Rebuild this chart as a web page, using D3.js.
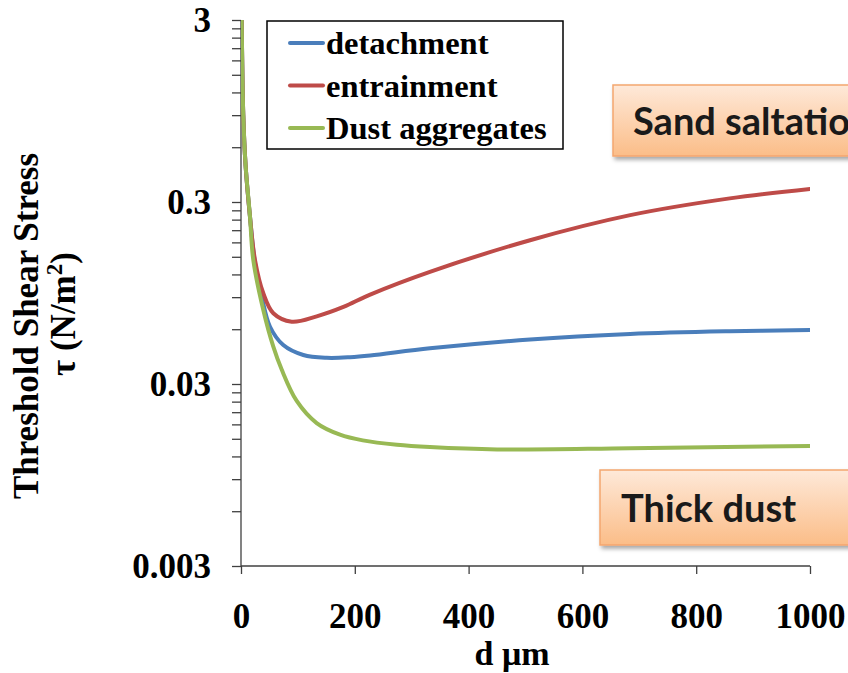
<!DOCTYPE html>
<html>
<head>
	<meta charset="utf-8">
	<title>Threshold shear stress</title>
	<script src="https://cdn.jsdelivr.net/npm/d3@7"></script>
	<style>
	body { margin: 0; background: #fff; }
	svg { display: block; }
	.serif { font-family: "Liberation Serif", "Times New Roman", serif; font-weight: bold; }
	.axis path, .axis line { stroke: #404040; stroke-width: 1.3px; }
	.axis text { font-family: "Liberation Serif", "Times New Roman", serif; font-weight: bold; font-size: 35px; fill: #000; }
	.note { font-family: Lato, "Open Sans", sans-serif; font-weight: bold; font-size: 38px; fill: #1a1a1a; }
	</style>
</head>
<body>
	<svg id="chart"></svg>
	<script>

	// data: d (µm) and tau (N/m2)
	var detachD   = [1.2, 4, 8, 15.8, 24.6, 36.4, 51, 74.3, 109.5, 150.6, 191.6, 227, 332, 508, 684, 859, 1000];
	var detachTau = [3.0, 0.9, 0.48, 0.249, 0.138, 0.0906, 0.0619, 0.0491, 0.0433, 0.0418, 0.0421, 0.0430, 0.0471, 0.0527, 0.0565, 0.0585, 0.0594];

	var entrainD   = [1.2, 4, 8, 15.8, 24.6, 39.2, 56.8, 89.1, 133, 180, 227, 332, 508, 684, 859, 1000];
	var entrainTau = [3.0, 0.9, 0.48, 0.249, 0.144, 0.0945, 0.0734, 0.066, 0.0706, 0.0795, 0.093, 0.124, 0.185, 0.254, 0.314, 0.354];

	var aggD   = [1.2, 4, 8, 15.8, 21.6, 39.2, 56.8, 71.5, 97.9, 133, 174, 214, 274, 332, 450, 684, 1000];
	var aggTau = [3.0, 0.9, 0.48, 0.249, 0.144, 0.0765, 0.0481, 0.0360, 0.0242, 0.0183, 0.0158, 0.0147, 0.0139, 0.0135, 0.0131, 0.0133, 0.0137];

	var seriesNames  = ["detachment", "entrainment", "Dust aggregates"];
	var seriesColors = ["#4a7ebb", "#be4b48", "#98b954"];

	var xTicks = [0, 200, 400, 600, 800, 1000];
	var yMajor = [0.003, 0.03, 0.3, 3];
	var yTickLabels = ["0.003", "0.03", "0.3", "3"];

	var notes = ["Sand saltation", "Thick dust"];

	var W = 848, H = 673;
	var margin = {top: 20, right: 38, bottom: 107, left: 241};
	var width = W - margin.left - margin.right,
		height = H - margin.top - margin.bottom;

	var svg = d3.select("#chart").attr("width", W).attr("height", H);

	var defs = svg.append("defs");
	var grad = defs.append("linearGradient").attr("id", "peach")
		.attr("x1", 0).attr("y1", 0).attr("x2", 0).attr("y2", 1);
	grad.append("stop").attr("offset", "0%").attr("stop-color", "#fee9d9");
	grad.append("stop").attr("offset", "100%").attr("stop-color", "#fbbd88");
	var shadow = defs.append("filter").attr("id", "shadow")
		.attr("x", "-10%").attr("y", "-10%").attr("width", "130%").attr("height", "140%");
	shadow.append("feDropShadow").attr("dx", 2).attr("dy", 3)
		.attr("stdDeviation", 2).attr("flood-color", "#000").attr("flood-opacity", 0.35);
	defs.append("clipPath").attr("id", "plotclip")
		.append("rect").attr("width", width).attr("height", height);

	var chart = svg.append("g")
		.attr("transform", "translate(" + margin.left + "," + margin.top + ")");

	var x = d3.scaleLinear().domain([0, 1000]).range([0, width]);
	var y = d3.scaleLog().domain([0.003, 3]).range([height, 0]);

	// minor ticks at k * decade start, like the excel log axis
	var yAll = [];
	yMajor.forEach(function(m, i) {
		yAll.push(m);
		if (i < yMajor.length - 1) {
			for (var k = 2; k <= 9; k++) yAll.push(+(m * k).toPrecision(3));
		}
	});

	chart.append("g")
		.attr("class", "axis")
		.call(d3.axisLeft(y).tickValues(yAll).tickSize(9).tickPadding(21)
			.tickFormat(function(d) {
				var i = yMajor.indexOf(d);
				return i >= 0 ? yTickLabels[i] : "";
			}))
		.call(function(g) { g.select(".domain").attr("d", "M0," + height + "V0"); });

	chart.append("g")
		.attr("class", "axis")
		.attr("transform", "translate(0," + height + ")")
		.call(d3.axisBottom(x).tickValues(xTicks).tickSize(8).tickPadding(29)
			.tickFormat(d3.format("d")))
		.call(function(g) { g.select(".domain").attr("d", "M0,0H" + width); });

	// lines
	var series = [
		{name: seriesNames[0], color: seriesColors[0], d: detachD, t: detachTau},
		{name: seriesNames[1], color: seriesColors[1], d: entrainD, t: entrainTau},
		{name: seriesNames[2], color: seriesColors[2], d: aggD, t: aggTau}
	];

	var line = d3.line()
		.x(function(p) { return x(p[0]); })
		.y(function(p) { return y(p[1]); })
		.curve(d3.curveCatmullRom.alpha(0.5));

	chart.append("g").attr("clip-path", "url(#plotclip)")
		.selectAll("path.series")
		.data(series).enter()
		.append("path")
		.attr("class", "series")
		.attr("fill", "none")
		.attr("stroke", function(s) { return s.color; })
		.attr("stroke-width", 4)
		.attr("stroke-linecap", "round")
		.attr("d", function(s) { return line(s.d.map(function(v, i) { return [v, s.t[i]]; })); });

	// legend
	var legend = svg.append("g").attr("transform", "translate(267,21)");
	legend.append("rect").attr("width", 296).attr("height", 128)
		.attr("fill", "#fff").attr("stroke", "#000").attr("stroke-width", 1.5);
	var items = legend.selectAll("g.item").data(series).enter()
		.append("g").attr("class", "item")
		.attr("transform", function(s, i) { return "translate(0," + (22 + i * 42.5) + ")"; });
	items.append("line").attr("x1", 23).attr("x2", 56)
		.attr("stroke", function(s) { return s.color; })
		.attr("stroke-width", 4).attr("stroke-linecap", "round");
	items.append("text").attr("class", "serif").attr("x", 59).attr("y", 11)
		.style("font-size", "32.5px").text(function(s) { return s.name; });

	// axis titles
	svg.append("text").attr("class", "serif")
		.attr("x", 512).attr("y", 665).attr("text-anchor", "middle")
		.style("font-size", "34px").text("d μm");

	svg.append("text").attr("class", "serif")
		.attr("transform", "translate(38,326) rotate(-90)")
		.attr("text-anchor", "middle").style("font-size", "35px")
		.text("Threshold Shear Stress");
	var t2 = svg.append("text").attr("class", "serif")
		.attr("transform", "translate(75,314) rotate(-90)")
		.attr("text-anchor", "middle").style("font-size", "35px");
	t2.append("tspan").text("τ (N/m");
	t2.append("tspan").attr("dy", -13).style("font-size", "23px").text("2");
	t2.append("tspan").attr("dy", 13).text(")");

	// annotation boxes
	var boxes = [
		{x: 613, y: 85, w: 260, h: 71, tx: 633, ty: 135},
		{x: 600, y: 470, w: 270, h: 75, tx: 621, ty: 522}
	];
	var nb = svg.selectAll("g.note").data(boxes).enter().append("g");
	nb.append("rect")
		.attr("x", function(b) { return b.x; }).attr("y", function(b) { return b.y; })
		.attr("width", function(b) { return b.w; }).attr("height", function(b) { return b.h; })
		.attr("fill", "url(#peach)").attr("stroke", "#f4a66f").attr("stroke-width", 1.5)
		.attr("filter", "url(#shadow)");
	nb.append("text").attr("class", "note")
		.attr("x", function(b) { return b.tx; }).attr("y", function(b) { return b.ty; })
		.text(function(b, i) { return notes[i]; });

	</script>
</body>
</html>
